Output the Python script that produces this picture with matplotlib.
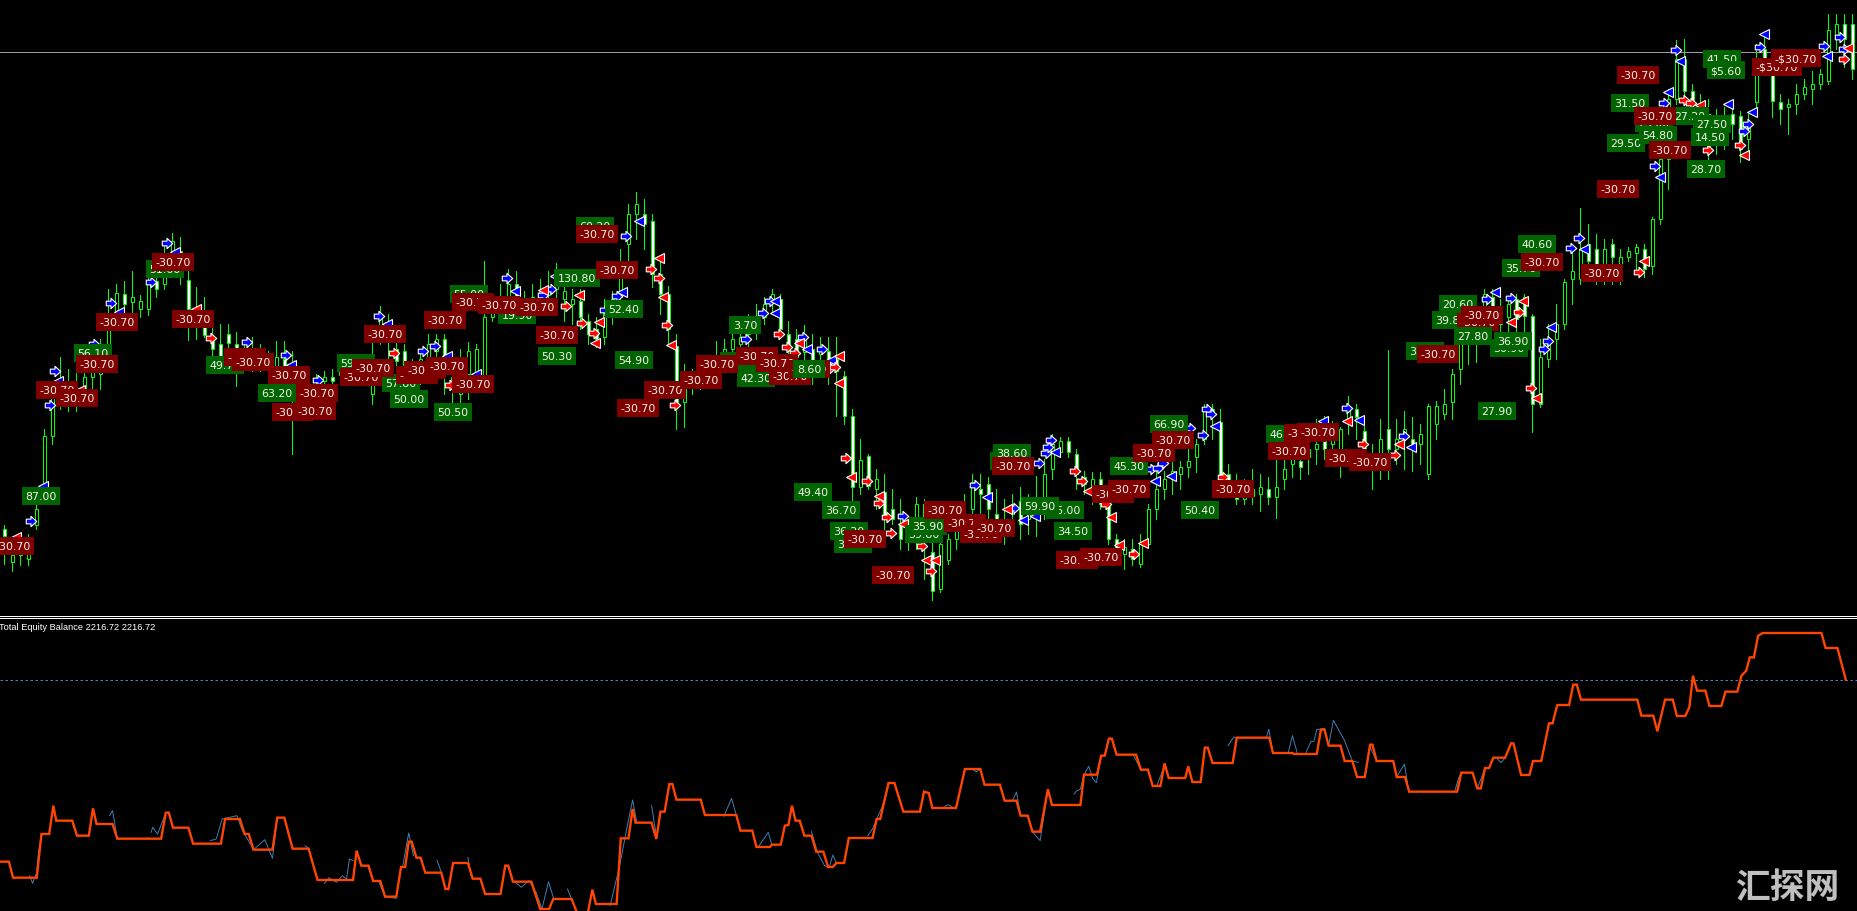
"""Trading terminal chart with trade labels and a total equity sub window."""
import matplotlib

matplotlib.use("Agg")
import matplotlib.pyplot as plt
import numpy as np
from matplotlib.lines import Line2D
from matplotlib.path import Path

nan = float("nan")

# Candles, one every 8 columns. Price scale reads downwards like the terminal rows.
opens = [
    530, 563, 550, 560, 526, 487, 437, 395, 385, 400,
    393, 378, 375, 357, 320, 295, 303, 310, 310, 282,
    285, 255, 252, 281, 312, 325, 342, 345, 335, 345,
    355, 352, 365, 355, 368, 360, 368, 385, 400, 385,
    382, 378, 376, 376, 372, 375, 395, 332, 325, 350,
    352, 372, 370, 358, 352, 340, 378, 395, 375, 375,
    380, 318, 308, 300, 285, 300, 303, 300, 296, 290,
    300, 305, 302, 322, 330, 338, 312, 298, 245, 215,
    215, 222, 275, 295, 347, 403, 385, 378, 375, 368,
    358, 350, 345, 335, 325, 318, 302, 300, 335, 340,
    353, 350, 355, 352, 360, 377, 417, 488, 457, 490,
    493, 510, 525, 535, 530, 505, 553, 590, 561, 540,
    525, 510, 490, 485, 515, 520, 515, 502, 520, 515,
    510, 470, 453, 442, 455, 478, 490, 480, 505, 540,
    555, 550, 565, 545, 510, 490, 480, 475, 468, 458,
    440, 410, 423, 475, 490, 500, 490, 495, 490, 498,
    480, 465, 462, 458, 450, 442, 445, 455, 420, 410,
    432, 460, 465, 430, 450, 440, 440, 445, 475, 425,
    415, 403, 370, 345, 332, 320, 298, 310, 318, 300,
    298, 317, 405, 360, 340, 325, 280, 280, 245, 250,
    265, 245, 265, 258, 254, 250, 267, 220, 160, 100,
    60, 92, 105, 115, 130, 120, 115, 117, 140, 103,
    50, 75, 103, 108, 105, 95, 90, 85, 82, 40, 25, 25,
]
closes = [
    537, 556, 556, 545, 510, 437, 395, 382, 395, 395,
    378, 360, 350, 320, 294, 305, 298, 302, 282, 290,
    265, 242, 278, 310, 325, 336, 350, 358, 344, 355,
    363, 360, 355, 368, 358, 370, 385, 400, 395, 392,
    378, 382, 372, 370, 378, 372, 375, 320, 340, 362,
    368, 380, 360, 345, 340, 370, 390, 385, 352, 350,
    318, 310, 300, 285, 298, 306, 298, 292, 288, 285,
    292, 300, 318, 335, 340, 310, 300, 262, 215, 205,
    225, 275, 295, 330, 403, 390, 378, 372, 368, 372,
    350, 340, 338, 328, 318, 305, 295, 330, 352, 358,
    335, 365, 350, 365, 372, 417, 488, 461, 487, 480,
    518, 520, 540, 540, 505, 530, 592, 545, 540, 520,
    515, 483, 495, 510, 525, 528, 505, 525, 505, 505,
    475, 445, 442, 453, 475, 485, 480, 505, 540, 555,
    548, 560, 545, 510, 490, 480, 472, 468, 462, 445,
    410, 415, 483, 485, 500, 490, 497, 488, 498, 488,
    470, 458, 468, 450, 445, 450, 435, 430, 408, 418,
    462, 470, 440, 450, 440, 430, 450, 435, 407, 407,
    405, 375, 345, 335, 315, 295, 310, 325, 305, 320,
    317, 405, 358, 340, 325, 283, 272, 250, 262, 270,
    250, 258, 258, 252, 248, 270, 220, 160, 100, 60,
    92, 105, 115, 150, 145, 145, 125, 150, 125, 65,
    60, 102, 110, 105, 95, 88, 85, 75, 31, 25, 40, 70,
]
highs = [
    526, 552, 540, 535, 505, 430, 385, 358, 370, 372,
    368, 345, 340, 290, 285, 282, 272, 296, 275, 272,
    245, 234, 238, 272, 288, 298, 325, 325, 325, 333,
    345, 338, 345, 352, 342, 342, 352, 375, 385, 375,
    372, 370, 368, 362, 360, 358, 340, 307, 315, 340,
    345, 360, 350, 335, 335, 335, 365, 350, 343, 345,
    262, 295, 285, 270, 272, 292, 285, 280, 272, 264,
    280, 290, 290, 315, 318, 300, 292, 250, 205, 193,
    200, 215, 262, 287, 335, 365, 370, 365, 358, 342,
    340, 325, 330, 315, 305, 298, 290, 295, 322, 330,
    326, 335, 338, 338, 338, 372, 410, 440, 455, 470,
    475, 490, 500, 520, 498, 500, 530, 540, 535, 505,
    495, 475, 475, 478, 490, 500, 495, 488, 495, 477,
    460, 435, 438, 438, 450, 472, 473, 473, 500, 535,
    540, 540, 535, 505, 470, 472, 462, 462, 445, 440,
    405, 405, 410, 465, 475, 480, 470, 475, 478, 460,
    450, 443, 445, 430, 420, 417, 422, 428, 397, 405,
    425, 445, 420, 351, 420, 412, 418, 425, 405, 402,
    390, 370, 340, 325, 305, 290, 290, 300, 298, 295,
    295, 315, 340, 325, 305, 280, 250, 209, 225, 235,
    240, 240, 250, 248, 245, 245, 218, 150, 90, 41,
    40, 85, 95, 100, 110, 108, 102, 112, 115, 45,
    37, 68, 95, 100, 85, 80, 72, 70, 15, 15, 15, 15,
]
lows = [
    565, 572, 566, 566, 530, 495, 445, 410, 412, 412,
    400, 390, 390, 362, 330, 318, 315, 318, 316, 298,
    290, 270, 285, 341, 340, 338, 362, 362, 360, 387,
    370, 372, 372, 378, 378, 375, 455, 415, 408, 400,
    390, 386, 382, 384, 385, 382, 405, 345, 370, 372,
    375, 395, 385, 370, 365, 395, 405, 408, 400, 380,
    385, 322, 318, 310, 312, 315, 312, 312, 312, 300,
    322, 325, 330, 345, 348, 345, 325, 305, 262, 240,
    250, 288, 315, 345, 430, 428, 395, 390, 385, 380,
    370, 360, 352, 350, 340, 325, 312, 335, 362, 368,
    370, 385, 372, 385, 417, 425, 505, 495, 490, 510,
    535, 525, 550, 551, 550, 580, 601, 593, 565, 550,
    535, 515, 515, 520, 530, 545, 530, 540, 535, 537,
    520, 480, 458, 458, 490, 495, 505, 510, 545, 565,
    570, 566, 568, 548, 520, 500, 495, 490, 478, 473,
    445, 440, 485, 495, 505, 505, 505, 512, 505, 519,
    490, 478, 480, 475, 465, 460, 458, 478, 435, 440,
    470, 490, 480, 480, 465, 470, 472, 465, 480, 440,
    420, 420, 385, 365, 363, 335, 330, 335, 345, 332,
    340, 433, 408, 368, 360, 330, 305, 285, 280, 285,
    285, 285, 285, 262, 270, 278, 275, 225, 190, 105,
    100, 115, 125, 165, 155, 150, 140, 163, 155, 110,
    70, 118, 125, 135, 115, 100, 105, 90, 85, 50, 68, 80,
]

# Trade labels in drawing order, later ones cover earlier ones.
label_text = [
    "87.00", "56.10", "51.60", "49.70", "63.20", "59.80", "57.80", "50.00", "50.50",
    "55.00", "19.90", "130.80", "50.30", "60.20", "52.40", "54.90", "3.70", "35.30",
    "42.30", "49.40", "36.70", "36.20", "36.80", "39.80", "35.90", "39.40", "38.60",
    "36.00", "59.90", "34.50", "45.30", "66.90", "50.40", "46.30", "33.60", "27.90",
    "20.60", "39.80", "30.90", "35.70", "40.60", "31.50", "29.50", "23.00", "54.80",
    "27.20", "41.50", "$5.60", "28.70",
    "-30.70", "-30.70", "-30.70", "-30.70", "-30.70", "-30.70", "-30.70", "-30.70",
    "-30.70", "-30.70", "-30.70", "-30.70", "-30.70", "-30.70", "-30.70", "-30.70",
    "-30.70", "-30.70", "-30.70", "-30.70", "-30.70", "-30.70", "-30.70", "-30.70",
    "-30.70", "-30.70", "-30.70", "-30.70", "-30.70", "-30.70", "-30.70", "-30.70",
    "-30.70", "-30.70", "-30.70", "8.60", "-30.70", "-30.70", "-30.70", "-30.70",
    "-30.70", "-30.70", "-30.70", "-30.70", "-30.70", "-30.70", "-30.70", "-30.70",
    "-30.70", "-30.70", "-30.70", "-30.70", "-30.70", "-30.70", "-30.70", "-30.70",
    "-30.70", "-30.70", "-30.70", "-30.70", "-30.70", "-30.70", "-30.70", "-30.70",
    "27.80", "30.90", "36.90", "14.50", "27.50", "-$30.70", "-$30.70",
]
label_x = [
    41, 93, 165, 225, 277, 356, 401, 409, 453,
    469, 517, 577, 557, 595, 624, 634, 745, 739,
    756, 813, 841, 849, 853, 924, 928, 1009, 1012,
    1065, 1040, 1073, 1129, 1169, 1200, 1285, 1425, 1497,
    1458, 1451, 1509, 1521, 1537, 1630, 1626, 1654, 1658,
    1690, 1722, 1726, 1706,
    13, 57, 77, 97, 117, 173, 193, 245,
    253, 289, 293, 317, 315, 385, 445, 361,
    373, 417, 425, 447, 473, 473, 499, 537,
    557, 597, 617, 638, 665, 701, 717, 757,
    777, 790, 809, 809, 865, 893, 945, 965,
    981, 994, 1013, 1077, 1101, 1113, 1129, 1154,
    1173, 1233, 1305, 1318, 1289, 1346, 1370, 1438,
    1478, 1482, 1542, 1602, 1618, 1638, 1655, 1670,
    1473, 1509, 1513, 1710, 1712, 1777, 1796,
]
label_y = [
    497, 354, 270, 366, 394, 364, 384, 400, 413,
    295, 316, 279, 357, 227, 310, 361, 326, 362,
    379, 493, 511, 532, 545, 535, 527, 462, 454,
    511, 507, 532, 467, 425, 511, 435, 352, 412,
    305, 321, 349, 269, 245, 104, 144, 124, 136,
    117, 60, 71, 170,
    547, 391, 399, 365, 323, 263, 320, 358,
    363, 376, 413, 394, 412, 335, 321, 378,
    369, 376, 371, 367, 385, 303, 306, 308,
    336, 235, 271, 409, 391, 381, 365, 357,
    364, 377, 370, 370, 540, 576, 511, 524,
    535, 529, 467, 561, 558, 495, 490, 454,
    441, 490, 434, 433, 452, 459, 463, 355,
    323, 316, 263, 274, 190, 76, 117, 151,
    337, 349, 342, 138, 125, 68, 59,
]

# Entry and exit arrows.
blue_right_x = [
    31, 50, 55, 111, 151, 167, 94, 286, 247, 379, 423, 435, 318, 507, 551, 543, 617, 605,
    626, 763, 770, 746, 803, 822, 903, 975, 1014, 1039, 1046, 1048, 1051, 1151, 1158, 1163,
    1190, 1203, 1207, 1211, 1347, 1404, 1487, 1511, 1571, 1579, 1655, 1664, 1676, 1544,
    1548, 1744, 1748, 1760, 1824, 1840, 1844,
]
blue_right_y = [
    522, 406, 372, 304, 283, 244, 345, 356, 343, 317, 352, 347, 381, 279, 290, 296, 297, 311,
    237, 314, 302, 340, 338, 350, 517, 486, 509, 464, 454, 448, 441, 470, 469, 464,
    429, 436, 410, 415, 409, 437, 300, 299, 249, 239, 167, 104, 51, 350,
    342, 132, 125, 48, 47, 38, 50,
]
blue_left_x = [
    43, 58, 119, 175, 515, 476, 447, 555, 387, 291, 622, 639, 775, 775, 807, 831, 1035,
    1055, 1155, 1171, 1215, 987, 1023, 1323, 1359, 1411, 1495, 1551, 1584, 1668, 1680,
    1660, 1728, 1752, 1764, 1827,
]
blue_left_y = [
    487, 382, 313, 253, 292, 375, 357, 277, 325, 366, 293, 222, 302, 314, 350, 361, 517,
    453, 482, 477, 427, 498, 521, 422, 421, 448, 293, 328, 250, 93, 62,
    178, 105, 113, 35, 57,
]
red_right_x = [
    211, 394, 450, 566, 582, 594, 651, 659, 667, 675, 779, 787, 795, 830, 835, 846, 867,
    879, 887, 891, 922, 931, 1075, 1082, 1106, 1134, 1223, 1363, 1395, 1519, 1639, 1531,
    1684, 1691, 1708, 1740, 1844,
]
red_right_y = [
    339, 354, 386, 307, 324, 334, 270, 279, 326, 406, 335, 348, 354, 369, 368, 459, 482,
    504, 518, 534, 547, 572, 472, 482, 505, 555, 478, 445, 456, 313, 273, 389,
    101, 104, 151, 146, 60,
]
red_left_x = [
    16, 80, 196, 543, 579, 599, 595, 659, 663, 671, 799, 839, 839, 851, 879, 926, 935,
    903, 1007, 1088, 1111, 1119, 1143, 1347, 1399, 1511, 1523, 1536, 1644, 1700, 1744, 1848,
]
red_left_y = [
    538, 391, 310, 291, 296, 323, 344, 259, 298, 346, 344, 357, 384, 478, 497, 561, 561,
    525, 510, 492, 518, 546, 544, 422, 445, 323, 302, 399, 262, 106, 156, 49,
]

# Total equity sub window: balance steps in orange, equity in thin blue where it leaves them.
balance_t = [
    0, 15, 22, 62, 70, 83, 90, 95, 122, 130, 150, 157, 163, 190, 198, 272, 280, 285, 292, 318,
    326, 373, 380, 405, 413, 420, 428, 460, 468, 480, 494, 521, 536, 596, 602, 610, 622, 630,
    642, 650, 669, 677, 684, 690, 695, 703, 710, 718, 745, 752, 757, 765, 790, 798, 811, 819,
    845, 853, 858, 866, 897, 912, 927, 934, 965, 973, 982, 990, 993, 1000, 1006, 1041, 1048,
    1061, 1068, 1073, 1100, 1108, 1115, 1122, 1130, 1135, 1142, 1183, 1190, 1243, 1250, 1270,
    1277, 1300, 1303, 1318, 1325, 1331, 1337, 1343, 1350, 1358, 1370, 1378, 1390, 1398, 1406,
    1412, 1425, 1433, 1473, 1480, 1486, 1500, 1510, 1525, 1553, 1560,
    1568, 1574, 1614, 1629, 1655, 1662, 1688, 1696, 1716, 1723, 1735, 1743, 1756, 1769, 1776,
    1824, 1830, 1852, 1859, 1865, 1872, 1877, 1885, 1918, 1926, 1938, 1946, 1959, 1966, 1973,
    2001, 2006, 2013, 2027, 2034, 2039, 2047, 2081, 2088, 2143, 2149, 2182, 2184, 2223, 2230,
    2236, 2243, 2263, 2270, 2283, 2291, 2304, 2313, 2317, 2324, 2352, 2358, 2372, 2379, 2460,
    2467, 2486, 2494, 2500, 2507, 2514, 2521, 2541, 2551, 2555, 2568, 2582, 2588, 2602, 2615,
    2621, 2629, 2649, 2656, 2662, 2669, 2764, 2771, 2791, 2798, 2811, 2824, 2831, 2845, 2852,
    2858, 2865, 2879, 2886, 2906, 2913, 2933, 2940, 2948, 2954, 2961, 2968, 2976, 3075, 3082,
    3102, 3116,
]
balance_v = [
    758, 758, 806, 806, 675, 675, 590, 635, 635, 680, 680, 598, 645, 645, 689, 689, 611, 611, 656, 656,
    704, 704, 630, 630, 675, 675, 722, 722, 626, 626, 719, 719, 813, 813, 725, 770, 770, 816,
    816, 863, 863, 774, 774, 698, 698, 746, 746, 791, 791, 840, 840, 762, 762, 809, 809, 855,
    855, 770, 770, 818, 818, 900, 900, 870, 870, 906, 925, 925, 906, 842, 885, 885, 688,
    688, 600, 641, 641, 690, 608, 608, 525, 525, 572, 572, 618, 618, 665, 665,
    714, 714, 707, 707, 650, 648, 590, 635, 635, 680, 680, 728, 728, 774, 774,
    762, 762, 687, 687, 630, 630, 522, 522, 608, 608, 548,
    552, 597, 597, 480, 480, 527, 527, 575, 575, 620, 620, 668, 668, 541, 588,
    588, 497, 497, 440, 440, 389, 389, 437, 437, 482, 482, 531, 531, 463, 507,
    507, 472, 519, 519, 416, 416, 462, 462, 386, 386, 432, 432, 435, 435, 362,
    362, 410, 410, 456, 456, 504, 504, 407, 407, 456, 456, 504, 504, 548, 548,
    491, 491, 538, 538, 477, 477, 446, 446, 403, 403, 498, 498, 456, 456, 343,
    343, 288, 288, 227, 227, 272, 272, 320, 320, 367, 272, 272, 321, 321, 295,
    200, 245, 245, 291, 291, 248, 248, 200, 185, 145, 145, 80, 72, 72, 117,
    117, 212,
]
equity_t = [
    50, 55, 62, 65, 70, nan, 122, 130, nan, 185, 190, 198, nan, 255, 258, 266, 278, nan,
    355, 365, 375, 400, 408, 428, 447, 460, 468, nan, 515, 521, nan, 548, 555, 568, 578, 585,
    590, 596, nan, 640, 650, 669, nan, 680, 690, 698, nan, 738, 745, nan, 790, 795, nan, 845, 853,
    nan, 870, 880, 893, 905, 915, 926, 935, nan, 958, 965, nan, 1030, 1040, 1045, 1058, 1068,
    1075, nan, 1100, 1108, nan, 1222, 1235, 1243, nan, 1280, 1297, 1303, nan, 1370, 1380, 1392,
    1400, 1406, 1412, nan, 1465, 1473, 1480, 1490, 1500, nan,
    1595, 1601, 1608, nan, 1643, 1648, 1655, nan, 1710, 1716, 1723, nan, 1743, 1756, 1769, nan,
    1813, 1818, 1824, 1830, 1838, 1845, 1851, 1859, nan, 1913, 1926, nan, 1953, 1966, nan,
    2073, 2083, 2088, nan, 2138, 2142, 2149, nan, 2175, 2182, 2190, nan, 2205, 2213, 2218, 2223,
    2236, 2243, 2251, 2270, 2283, 2293, nan, 2305, 2313, 2324, nan, 2358, 2371, 2376, nan,
    2456, 2463, 2467, nan, 2494, 2507, nan, 2528, 2534, 2541,
]
equity_v = [
    800, 823, 790, 730, 675, nan, 640, 680, nan, 620, 605, 689, nan, 670, 655, 675, 620, nan,
    695, 690, 630, 620, 660, 722, 692, 748, 626, nan, 710, 719, nan, 823, 806, 820, 800, 810,
    750, 755, nan, 820, 863, 868, nan, 770, 672, 740, nan, 755, 790, nan, 745, 800, nan, 850, 770,
    nan, 820, 835, 815, 850, 900, 818, 870, nan, 840, 870, nan, 890, 815, 780, 660, 573,
    640, nan, 590, 680, nan, 622, 568, 618, nan, 714, 670, 707, nan, 668, 730, 770,
    775, 738, 762, nan, 680, 660, 630, 590, 522, nan,
    592, 587, 595, nan, 482, 488, 480, nan, 572, 549, 620, nan, 668, 695, 541, nan,
    555, 545, 540, 497, 472, 510, 521, 440, nan, 437, 482, nan, 530, 470, nan,
    410, 384, 386, nan, 385, 361, 432, nan, 430, 380, 432, nan, 430, 397, 397, 362,
    358, 410, 334, 395, 456, 460, nan, 500, 415, 456, nan, 504, 465, 520, nan,
    545, 505, 491, nan, 538, 477, nan, 450, 461, 446,
]

CANDLE_GREEN = "#00ff00"
WATERMARK = "汇探网"


def draw_candles(ax):
    """Draw wicks and bodies, falling bars white and rising bars black."""
    bar_x = 4 + 8 * np.arange(len(opens))
    o = np.array(opens)
    c = np.array(closes)
    ax.vlines(bar_x, highs, lows, color=CANDLE_GREEN, lw=0.72, zorder=2, antialiased=False)
    falling = c >= o
    ax.bar(bar_x[falling], (c - o)[falling], bottom=o[falling], width=3, color="white",
           edgecolor=CANDLE_GREEN, lw=0.72, zorder=3)
    ax.bar(bar_x[~falling], (o - c)[~falling], bottom=c[~falling], width=3, color="black",
           edgecolor=CANDLE_GREEN, lw=0.72, zorder=3)


def draw_arrows(ax):
    """Draw the trade arrows with their white rim."""
    block = Path([(-1, -0.45), (-0.1, -0.45), (-0.1, -1), (1, 0), (-0.1, 1), (-0.1, 0.45), (-1, 0.45),
                  (-1, -0.45)], closed=True)
    style = dict(ls="none", mec="white", mew=0.8, zorder=4)
    ax.plot(blue_right_x, blue_right_y, marker=block, ms=7.5, mfc="#0000ff", **style)
    ax.plot(blue_left_x, blue_left_y, marker="<", ms=6.5, mfc="#0000ff", **style)
    ax.plot(red_right_x, red_right_y, marker=block, ms=7.5, mfc="#ff0000", **style)
    ax.plot(red_left_x, red_left_y, marker="<", ms=6.5, mfc="#ff0000", **style)


def draw_labels(ax):
    """Draw profit and loss boxes, green for a gain and dark red for a loss."""
    for x, y, text in zip(label_x, label_y, label_text):
        face = "#800000" if text.startswith("-") else "#006400"
        ax.text(x, y, text, ha="center", va="center", color="#f4f4e8", fontsize=7.9, zorder=5,
                clip_on=True, family="DejaVu Sans",
                bbox=dict(boxstyle="square,pad=0.32", fc=face, ec="none"))


def main():
    fig = plt.figure(figsize=(18.57, 9.12), dpi=100, facecolor="black")

    ax = fig.add_axes([0, 1 - 616 / 912, 1, 616 / 912], facecolor="black")
    ax.set_xlim(0, 1857)
    ax.set_ylim(616, 0)
    ax.axis("off")
    ax.axhline(53, color="#9a9aa6", lw=0.72, zorder=1)
    draw_candles(ax)
    draw_arrows(ax)
    draw_labels(ax)

    sub = fig.add_axes([0, 0, 1, 293 / 912], facecolor="black")
    sub.set_xlim(0, 3135)
    sub.set_ylim(906, 27)
    sub.axis("off")
    sub.axhline(212, color="#3d85c6", lw=0.72, ls=(0, (2.5, 2.5)))
    sub.plot(equity_t, equity_v, color="#3f7fb5", lw=0.7)
    sub.plot(balance_t, balance_v, color="#ff4500", lw=1.7, solid_joinstyle="miter")

    # Double white frame line between the two windows.
    for row in (616.5, 618.5):
        fig.add_artist(Line2D([0, 1], [1 - row / 912] * 2, color="white", lw=0.72, antialiased=False))

    fig.text(-1 / 1857, 1 - 628 / 912, "Total Equity Balance 2216.72 2216.72", color="white",
             fontsize=6.65, va="center", family="Liberation Sans")
    fig.text(1787 / 1857, 1 - 888 / 912, WATERMARK, color="#c0c0c0", fontsize=25, fontweight="bold",
             ha="center", va="center", family=["Noto Sans CJK SC", "DejaVu Sans"])

    fig.savefig("out.png", dpi=100, facecolor="black")


if __name__ == "__main__":
    main()
